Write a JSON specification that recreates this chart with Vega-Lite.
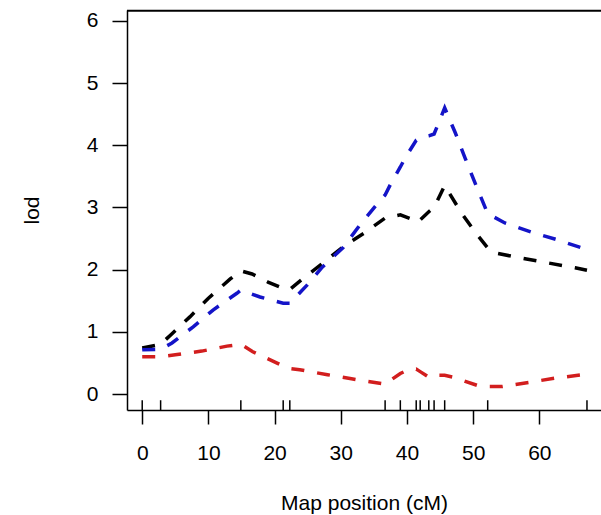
{
  "$schema": "https://vega.github.io/schema/vega-lite/v6.json",
  "width": 474,
  "height": 400,
  "autosize": {"type": "none"},
  "padding": {"left": 127, "top": 10, "right": 0, "bottom": 105},
  "background": "white",
  "config": {
    "view": {"stroke": null},
    "font": "Liberation Sans",
    "axis": {
      "domainColor": "#000000",
      "domainWidth": 1.5,
      "tickColor": "#000000",
      "tickWidth": 1.5,
      "labelColor": "#000000",
      "titleColor": "#000000",
      "labelFont": "Liberation Sans",
      "titleFont": "Liberation Sans",
      "labelFontSize": 21,
      "titleFontSize": 21,
      "titleFontWeight": "normal",
      "grid": false
    }
  },
  "datasets": {
    "lod": [
      {"pos": 0, "lod": 0.74, "series": "s1"},
      {"pos": 2.8, "lod": 0.8, "series": "s1"},
      {"pos": 4.5, "lod": 0.97, "series": "s1"},
      {"pos": 7.2, "lod": 1.24, "series": "s1"},
      {"pos": 10, "lod": 1.54, "series": "s1"},
      {"pos": 13.3, "lod": 1.85, "series": "s1"},
      {"pos": 14.9, "lod": 1.98, "series": "s1"},
      {"pos": 16.6, "lod": 1.93, "series": "s1"},
      {"pos": 19, "lod": 1.8, "series": "s1"},
      {"pos": 21.3, "lod": 1.7, "series": "s1"},
      {"pos": 22.3, "lod": 1.68, "series": "s1"},
      {"pos": 24, "lod": 1.83, "series": "s1"},
      {"pos": 27, "lod": 2.08, "series": "s1"},
      {"pos": 30.4, "lod": 2.37, "series": "s1"},
      {"pos": 33.7, "lod": 2.6, "series": "s1"},
      {"pos": 36.7, "lod": 2.83, "series": "s1"},
      {"pos": 39, "lod": 2.88, "series": "s1"},
      {"pos": 40.5, "lod": 2.82, "series": "s1"},
      {"pos": 41.4, "lod": 2.76, "series": "s1"},
      {"pos": 42, "lod": 2.8, "series": "s1"},
      {"pos": 43.3, "lod": 2.93, "series": "s1"},
      {"pos": 44.1, "lod": 3.0, "series": "s1"},
      {"pos": 45.7, "lod": 3.35, "series": "s1"},
      {"pos": 48.3, "lod": 2.9, "series": "s1"},
      {"pos": 50.6, "lod": 2.56, "series": "s1"},
      {"pos": 52.2, "lod": 2.35, "series": "s1"},
      {"pos": 53.3, "lod": 2.27, "series": "s1"},
      {"pos": 57, "lod": 2.19, "series": "s1"},
      {"pos": 61.2, "lod": 2.11, "series": "s1"},
      {"pos": 65.4, "lod": 2.03, "series": "s1"},
      {"pos": 67.2, "lod": 1.99, "series": "s1"},
      {"pos": 0, "lod": 0.71, "series": "s2"},
      {"pos": 2.8, "lod": 0.72, "series": "s2"},
      {"pos": 4.5, "lod": 0.82, "series": "s2"},
      {"pos": 7.7, "lod": 1.08, "series": "s2"},
      {"pos": 10.7, "lod": 1.35, "series": "s2"},
      {"pos": 14.3, "lod": 1.62, "series": "s2"},
      {"pos": 14.9, "lod": 1.67, "series": "s2"},
      {"pos": 17.8, "lod": 1.56, "series": "s2"},
      {"pos": 21.3, "lod": 1.46, "series": "s2"},
      {"pos": 22.3, "lod": 1.46, "series": "s2"},
      {"pos": 24.9, "lod": 1.75, "series": "s2"},
      {"pos": 27.2, "lod": 2.04, "series": "s2"},
      {"pos": 30.4, "lod": 2.36, "series": "s2"},
      {"pos": 32.9, "lod": 2.72, "series": "s2"},
      {"pos": 35.6, "lod": 3.07, "series": "s2"},
      {"pos": 36.7, "lod": 3.2, "series": "s2"},
      {"pos": 37.7, "lod": 3.41, "series": "s2"},
      {"pos": 39, "lod": 3.65, "series": "s2"},
      {"pos": 39.7, "lod": 3.79, "series": "s2"},
      {"pos": 41.4, "lod": 4.08, "series": "s2"},
      {"pos": 42, "lod": 4.12, "series": "s2"},
      {"pos": 43.3, "lod": 4.15, "series": "s2"},
      {"pos": 44.1, "lod": 4.18, "series": "s2"},
      {"pos": 45.7, "lod": 4.6, "series": "s2"},
      {"pos": 47.3, "lod": 4.2, "series": "s2"},
      {"pos": 48.8, "lod": 3.79, "series": "s2"},
      {"pos": 50.3, "lod": 3.39, "series": "s2"},
      {"pos": 52.2, "lod": 2.9, "series": "s2"},
      {"pos": 54.8, "lod": 2.75, "series": "s2"},
      {"pos": 58.9, "lod": 2.6, "series": "s2"},
      {"pos": 62.7, "lod": 2.48, "series": "s2"},
      {"pos": 66.4, "lod": 2.35, "series": "s2"},
      {"pos": 67.2, "lod": 2.32, "series": "s2"},
      {"pos": 0, "lod": 0.6, "series": "s3"},
      {"pos": 2.8, "lod": 0.6, "series": "s3"},
      {"pos": 5, "lod": 0.63, "series": "s3"},
      {"pos": 9, "lod": 0.69, "series": "s3"},
      {"pos": 12.8, "lod": 0.77, "series": "s3"},
      {"pos": 14.9, "lod": 0.8, "series": "s3"},
      {"pos": 16.7, "lod": 0.68, "series": "s3"},
      {"pos": 20.3, "lod": 0.5, "series": "s3"},
      {"pos": 21.3, "lod": 0.45, "series": "s3"},
      {"pos": 22.3, "lod": 0.41, "series": "s3"},
      {"pos": 23.8, "lod": 0.39, "series": "s3"},
      {"pos": 28, "lod": 0.31, "series": "s3"},
      {"pos": 31.4, "lod": 0.25, "series": "s3"},
      {"pos": 33, "lod": 0.22, "series": "s3"},
      {"pos": 36.7, "lod": 0.16, "series": "s3"},
      {"pos": 39, "lod": 0.33, "series": "s3"},
      {"pos": 40, "lod": 0.38, "series": "s3"},
      {"pos": 41.4, "lod": 0.4, "series": "s3"},
      {"pos": 42, "lod": 0.36, "series": "s3"},
      {"pos": 43.3, "lod": 0.27, "series": "s3"},
      {"pos": 44.1, "lod": 0.3, "series": "s3"},
      {"pos": 45.7, "lod": 0.3, "series": "s3"},
      {"pos": 47, "lod": 0.27, "series": "s3"},
      {"pos": 50.6, "lod": 0.14, "series": "s3"},
      {"pos": 52.2, "lod": 0.12, "series": "s3"},
      {"pos": 54.4, "lod": 0.12, "series": "s3"},
      {"pos": 58.6, "lod": 0.19, "series": "s3"},
      {"pos": 62.7, "lod": 0.26, "series": "s3"},
      {"pos": 66.6, "lod": 0.31, "series": "s3"},
      {"pos": 67.2, "lod": 0.31, "series": "s3"}
    ],
    "markers": [
      {"pos": 0}, {"pos": 2.78}, {"pos": 14.9}, {"pos": 21.3}, {"pos": 22.3},
      {"pos": 36.7}, {"pos": 39.0}, {"pos": 41.4}, {"pos": 42.0}, {"pos": 43.3},
      {"pos": 44.1}, {"pos": 45.7}, {"pos": 52.2}, {"pos": 67.2}
    ]
  },
  "layer": [
    {
      "data": {"name": "lod"},
      "mark": {"type": "line", "strokeWidth": 3.5, "strokeDash": [13, 13], "strokeCap": "butt", "clip": true},
      "encoding": {
        "x": {
          "field": "pos", "type": "quantitative",
          "scale": {"domain": [-2.3, 69.32], "nice": false, "zero": false},
          "axis": {"orient": "bottom", "values": [0, 10, 20, 30, 40, 50, 60], "tickSize": 14, "labelPadding": 18, "title": "Map position (cM)", "titlePadding": 29}
        },
        "y": {
          "field": "lod", "type": "quantitative",
          "scale": {"domain": [-0.257, 6.174], "nice": false, "zero": false},
          "axis": {"values": [0, 1, 2, 3, 4, 5, 6], "format": "d", "tickSize": 15, "labelPadding": 14, "labelAngle": 0, "title": "lod", "titlePadding": 44}
        },
        "color": {
          "field": "series", "type": "nominal",
          "scale": {"domain": ["s1", "s2", "s3"], "range": ["#000000", "#1414c8", "#d21e1e"]},
          "legend": null
        }
      }
    },
    {
      "data": {"name": "markers"},
      "mark": {"type": "rule", "strokeWidth": 1.5, "color": "#000000"},
      "encoding": {
        "x": {"field": "pos", "type": "quantitative"},
        "y": {"datum": -0.257, "type": "quantitative"},
        "y2": {"datum": -0.1}
      }
    },
    {
      "data": {"values": [{"edge": "top"}]},
      "mark": {"type": "rule", "strokeWidth": 2, "color": "#000000"},
      "encoding": {
        "x": {"datum": -2.3, "type": "quantitative"},
        "x2": {"datum": 69.32},
        "y": {"datum": 6.16, "type": "quantitative"}
      }
    }
  ]
}
